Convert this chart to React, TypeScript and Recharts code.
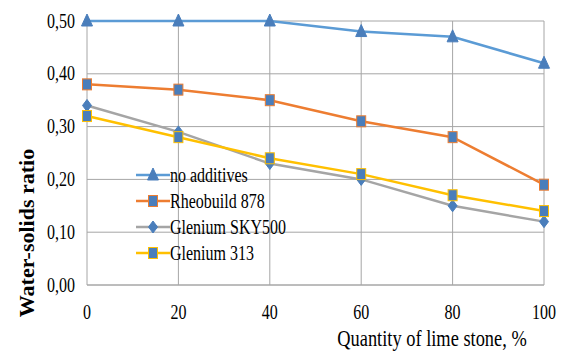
import React from 'react';
import { LineChart, Line, XAxis, YAxis, CartesianGrid } from 'recharts';

const limeStone = [0, 20, 40, 60, 80, 100];
const noAdditives = [0.5, 0.5, 0.5, 0.48, 0.47, 0.42];
const rheobuild878 = [0.38, 0.37, 0.35, 0.31, 0.28, 0.19];
const gleniumSky500 = [0.34, 0.29, 0.23, 0.2, 0.15, 0.12];
const glenium313 = [0.32, 0.28, 0.24, 0.21, 0.17, 0.14];
const yTicks = [0, 0.1, 0.2, 0.3, 0.4, 0.5];

const chartData = limeStone.map((x, i) => ({
    x,
    noAdd: noAdditives[i],
    rheo: rheobuild878[i],
    sky: gleniumSky500[i],
    g313: glenium313[i],
}));

const FONT = 'Liberation Serif, DejaVu Serif, serif';
const MARKER = '#4A7EBB';
const SQUEEZE = 0.8;

type Shape = 'triangle' | 'square' | 'diamond';

const series: { key: string; name: string; color: string; shape: Shape }[] = [
    { key: 'noAdd', name: 'no additives', color: '#5B9BD5', shape: 'triangle' },
    { key: 'rheo', name: 'Rheobuild 878', color: '#ED7D31', shape: 'square' },
    { key: 'sky', name: 'Glenium SKY500', color: '#A5A5A5', shape: 'diamond' },
    { key: 'g313', name: 'Glenium 313', color: '#FFC000', shape: 'square' },
];

const Marker = ({ cx, cy, shape, color }: { cx: number; cy: number; shape: Shape; color: string }) => {
    if (shape === 'triangle') {
        return <polygon points={`${cx},${cy - 7} ${cx + 5.5},${cy + 5} ${cx - 5.5},${cy + 5}`} fill={MARKER} stroke={MARKER} />;
    }
    if (shape === 'diamond') {
        return <polygon points={`${cx},${cy - 6} ${cx + 4.5},${cy} ${cx},${cy + 6} ${cx - 4.5},${cy}`} fill={MARKER} stroke={MARKER} />;
    }
    return <rect x={cx - 4.5} y={cy - 5.5} width={9} height={11} fill={MARKER} stroke={color} strokeWidth={1} />;
};

const XTick = (props: any) => {
    const { x, y, payload } = props;
    return (
        <text transform={`translate(${x},${y + 27}) scale(${SQUEEZE},1)`} textAnchor="middle" dominantBaseline="central"
            style={{ fontFamily: FONT }} fontSize={20} fill="#000">
            {payload.value}
        </text>
    );
};

const YTick = (props: any) => {
    const { x, y, payload } = props;
    return (
        <text transform={`translate(${x - 12},${y}) scale(${SQUEEZE},1)`} textAnchor="end" dominantBaseline="central"
            style={{ fontFamily: FONT }} fontSize={20} fill="#000">
            {payload.value.toFixed(2).replace('.', ',')}
        </text>
    );
};

const LegendBox = () => (
    <div style={{ position: 'absolute', left: 136, top: 162, fontFamily: FONT, fontSize: 20, color: '#000' }}>
        {series.map(s => (
            <div key={s.key} style={{ display: 'flex', alignItems: 'center', height: 26 }}>
                <svg width={34} height={20} style={{ flex: 'none' }}>
                    <line x1={0} y1={10} x2={34} y2={10} stroke={s.color} strokeWidth={2.5} />
                    <Marker cx={17} cy={10} shape={s.shape} color={s.color} />
                </svg>
                <span style={{ display: 'inline-block', transform: `scaleX(${SQUEEZE})`, transformOrigin: 'left center', whiteSpace: 'nowrap' }}>
                    {s.name}
                </span>
            </div>
        ))}
    </div>
);

const App: React.FC = () => {
    return (
        <div style={{ position: 'absolute', left: 0, top: 0, width: 563, height: 353, background: '#fff', fontFamily: FONT }}>
            <LineChart width={563} height={353} data={chartData} margin={{ top: 21, right: 19, bottom: 38, left: 0 }}>
                <CartesianGrid stroke="#A6A6A6" strokeWidth={1} />
                <XAxis
                    dataKey="x"
                    type="number"
                    domain={[0, 100]}
                    ticks={limeStone}
                    height={30}
                    tickSize={0}
                    tickMargin={0}
                    tickLine={false}
                    axisLine={{ stroke: '#A6A6A6' }}
                    tick={<XTick />}
                    label={{
                        content: () => (
                            <text transform={`translate(432,338) scale(${SQUEEZE},1)`} textAnchor="middle" dominantBaseline="central"
                                style={{ fontFamily: FONT }} fontSize={23} fill="#000">
                                Quantity of lime stone, %
                            </text>
                        ),
                    }}
                />
                <YAxis
                    type="number"
                    domain={[0, 0.5]}
                    ticks={yTicks}
                    width={87}
                    tickSize={0}
                    tickMargin={0}
                    tickLine={false}
                    axisLine={false}
                    tick={<YTick />}
                    label={{
                        content: () => (
                            <text transform="translate(26,233) rotate(-90)" textAnchor="middle" dominantBaseline="central"
                                style={{ fontFamily: FONT }} fontSize={22} fontWeight="bold" fill="#000">
                                Water-solids ratio
                            </text>
                        ),
                    }}
                />
                {series.map(s => (
                    <Line
                        key={s.key}
                        type="linear"
                        dataKey={s.key}
                        name={s.name}
                        stroke={s.color}
                        strokeWidth={2.5}
                        isAnimationActive={false}
                        dot={(p: any) => <Marker key={`${s.key}-${p.index}`} cx={p.cx} cy={p.cy} shape={s.shape} color={s.color} />}
                        activeDot={false}
                    />
                ))}
            </LineChart>
            <LegendBox />
        </div>
    );
};

export default App;
